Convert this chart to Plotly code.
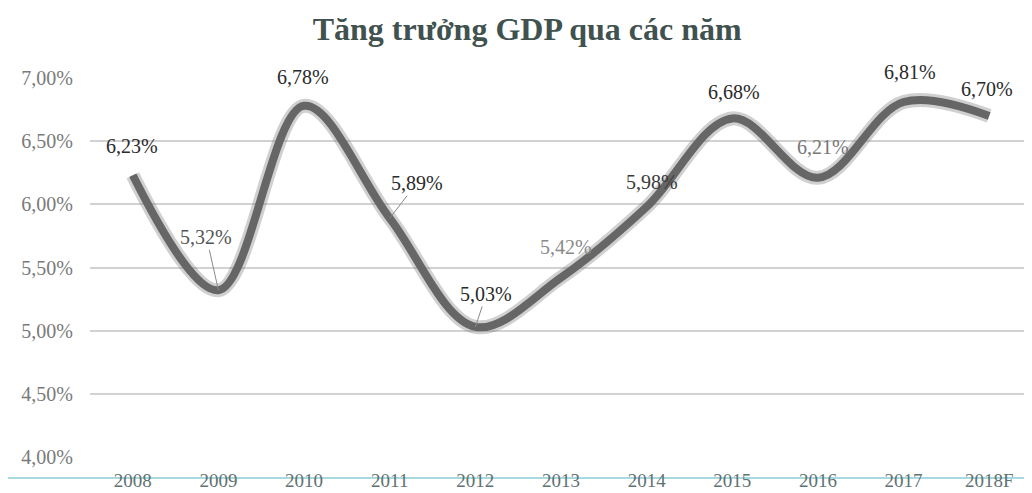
import plotly.graph_objects as go

years = ["2008", "2009", "2010", "2011", "2012", "2013", "2014", "2015", "2016", "2017", "2018F"]
gdp = [6.23, 5.32, 6.78, 5.89, 5.03, 5.42, 5.98, 6.68, 6.21, 6.81, 6.70]
ytick_vals = [4.0, 4.5, 5.0, 5.5, 6.0, 6.5, 7.0]
ytick_text = ["4,00%", "4,50%", "5,00%", "5,50%", "6,00%", "6,50%", "7,00%"]
title_text = "Tăng trưởng GDP qua các năm"

# label placement (pixel offsets from point), leader flag, colour
label_dx = [-1, -12, -1, 27, 11, 5, 5, 2, 5, 6, -2]
label_dy = [-29, -53, -29, -35, -33, -31, -25, -26, -31, -30, -27]
label_leader = [False, True, False, True, True, False, False, False, False, False, False]
label_color = ["#2a2a2a", "#555555", "#2a2a2a", "#2a2a2a", "#2a2a2a", "#8a8a8a",
               "#3a3a3a", "#2a2a2a", "#777777", "#2a2a2a", "#2a2a2a"]

fig = go.Figure()
# soft halo for scanned look
fig.add_trace(go.Scatter(x=years, y=gdp, mode="lines",
                         line=dict(color="rgba(120,120,120,0.35)", width=14, shape="spline", smoothing=1.0),
                         hoverinfo="skip", showlegend=False))
fig.add_trace(go.Scatter(x=years, y=gdp, mode="lines",
                         line=dict(color="#666666", width=8, shape="spline", smoothing=1.0),
                         showlegend=False))

def fmt(v):
    return f"{v:.2f}".replace(".", ",") + "%"

for i, v in enumerate(gdp):
    base = dict(x=i, y=v, text=fmt(v),
                font=dict(family="Liberation Serif", size=20, color=label_color[i]))
    if label_leader[i]:
        fig.add_annotation(**base, showarrow=True, arrowhead=0, arrowwidth=1,
                           arrowcolor="#8a8a8a", ax=label_dx[i], ay=label_dy[i], standoff=0)
    else:
        fig.add_annotation(**base, showarrow=False, xshift=label_dx[i], yshift=-label_dy[i])

# cyan baseline below the plot area
fig.add_shape(type="line", xref="paper", yref="paper", x0=-0.1, x1=1.01,
              y0=-21 / 379, y1=-21 / 379, line=dict(color="#a9d9e0", width=2), layer="below")

fig.update_layout(
    width=1024, height=485,
    paper_bgcolor="white", plot_bgcolor="white",
    margin=dict(l=82, r=0, t=70, b=36, autoexpand=False),
    title=dict(text=title_text, x=0.507, xanchor="center", y=0.957, yanchor="middle",
               font=dict(family="Liberation Serif", size=32, color="#3f524f", weight="bold")),
    xaxis=dict(type="category", range=[-0.5, 10.5], showgrid=False, zeroline=False,
               showline=False, ticks="", ticklabelstandoff=10, automargin=False,
               tickfont=dict(family="Liberation Serif", size=19, color="#5f7272")),
    yaxis=dict(range=[4.0, 7.0], tickvals=ytick_vals, ticktext=ytick_text,
               showgrid=True, gridcolor="#d2d2d2", gridwidth=1.5, zeroline=False,
               showline=False, ticks="", ticklabelstandoff=16, automargin=False,
               tickfont=dict(family="Liberation Serif", size=20, color="#7a7a7a")),
)

fig.write_html("out.html")
